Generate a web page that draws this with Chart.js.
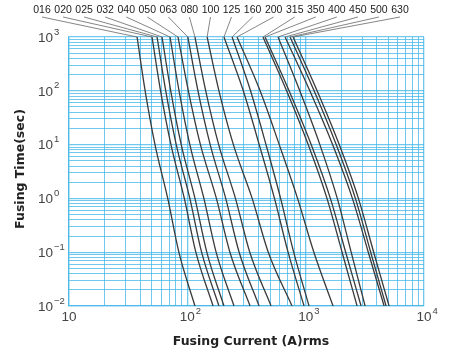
<!DOCTYPE html>
<html><head><meta charset="utf-8">
<script src="https://cdn.jsdelivr.net/npm/chart.js@4/dist/chart.umd.min.js"></script>
<style>html,body{margin:0;padding:0;background:#fff}canvas{display:block}</style>
</head><body>
<canvas id="c" width="450" height="360"></canvas>
<script>
// Fusing time levels (sec) at which currents were read
const times = [1000, 100, 10, 1, 0.1, 0.01];
// Ratings (labels on top)
const ratings = ['016','020','025','032','040','050','063','080','100','125','160','200','315','350','400','450','500','630'];
// Fusing currents (A rms) per rating, one per time level
const I016 = [37.6, 44, 53.3, 68.3, 84.8, 116];
const I020 = [50.3, 59.4, 72.7, 94.3, 118, 165];
const I025 = [55.5, 65.7, 80.6, 105, 132, 185];
const I032 = [61.1, 72.4, 88.8, 116, 146, 204];
const I040 = [71.4, 85.1, 105, 138, 175, 248];
const I050 = [83.4, 102, 129, 176, 229, 339];
const I063 = [101, 123, 156, 211, 274, 404];
const I080 = [116, 143, 184, 255, 337, 510];
const I100 = [147, 185, 245, 353, 483, 767];
const I125 = [204, 297, 405, 545, 710, 969];
const I160 = [239, 342, 462, 614, 792, 1068];
const I200 = [263, 412, 598, 854, 1173, 1704];
const I315 = [436, 690, 1050, 1514, 2031, 2720];
const I350 = [454, 724, 1113, 1617, 2178, 2940];
const I400 = [584, 892, 1318, 1850, 2424, 3178];
const I450 = [670, 1084, 1688, 2482, 3382, 4600];
const I500 = [738, 1178, 1810, 2631, 3544, 4781];
const I630 = [783, 1249, 1920, 2790, 3757, 5070];
const currents = [I016,I020,I025,I032,I040,I050,I063,I080,I100,I125,I160,I200,I315,I350,I400,I450,I500,I630];
// Axis tick labels (exponents)
const xTickExp = [1, 2, 3, 4];
const yTickExp = [3, 2, 1, 0, -1, -2];
// Grid values
const xGrid = [];
for (let e = 1; e <= 3; e++) for (let m = 1; m <= 9; m++) xGrid.push(m * Math.pow(10, e));
xGrid.push(10000);
const yGrid = [];
for (let e = -2; e <= 2; e++) for (let m = 1; m <= 9; m++) yGrid.push(+(m * Math.pow(10, e)).toPrecision(3));
yGrid.push(1000);

const gridColor = 'rgba(64,182,232,0.75)';
const isDecade = v => Math.abs(Math.log10(v) - Math.round(Math.log10(v))) < 1e-9;

const datasets = ratings.map((r, i) => ({
  label: r,
  data: times.map((t, k) => ({x: currents[i][k], y: t})),
  borderColor: '#3a3a3a',
  borderWidth: 1.3,
  pointRadius: 0,
  fill: false,
  cubicInterpolationMode: 'monotone'
}));

const deco = {
  id: 'deco',
  afterDraw(chart) {
    const ctx = chart.ctx, xs = chart.scales.x, ys = chart.scales.y;
    ctx.save();
    // top rating labels with leader lines
    ctx.font = '10.5px "Liberation Sans", Arial, sans-serif';
    ctx.fillStyle = '#222';
    ctx.textAlign = 'center';
    ctx.textBaseline = 'middle';
    const n = ratings.length, lx0 = 42, lx1 = 400;
    ctx.strokeStyle = '#666';
    ctx.lineWidth = 0.8;
    ratings.forEach((r, i) => {
      const lx = lx0 + (lx1 - lx0) * i / (n - 1);
      ctx.fillText(r, lx, 10);
      const px = xs.getPixelForValue(currents[i][0]);
      const py = ys.getPixelForValue(times[0]);
      ctx.beginPath();
      ctx.moveTo(lx, 17);
      ctx.lineTo(px, py);
      ctx.stroke();
    });
    // tick labels with superscripts
    ctx.fillStyle = '#444';
    const base = '13.5px "Liberation Sans", Arial, sans-serif';
    const sup = '9.5px "Liberation Sans", Arial, sans-serif';
    ctx.textBaseline = 'middle';
    yTickExp.forEach(e => {
      const py = ys.getPixelForValue(Math.pow(10, e));
      ctx.font = base; ctx.textAlign = 'left';
      ctx.fillText('10', 38, py + 1);
      const w = ctx.measureText('10').width;
      ctx.font = sup;
      ctx.fillText(e < 0 ? '\u2212' + (-e) : String(e), 38 + w + 1, py - 5);
    });
    xTickExp.forEach(e => {
      const px = xs.getPixelForValue(Math.pow(10, e));
      ctx.font = base; ctx.textAlign = 'center';
      ctx.fillText('10', px, 317);
      const w = ctx.measureText('10').width;
      if (e > 1) {
        ctx.font = sup; ctx.textAlign = 'left';
        ctx.fillText(String(e), px + w / 2 + 1, 311);
      }
    });
    // axis titles
    ctx.fillStyle = '#222';
    ctx.font = 'bold 12.5px "DejaVu Sans", Verdana, sans-serif';
    ctx.textAlign = 'center';
    ctx.fillText('Fusing Current (A)rms', 251, 342);
    ctx.translate(21, 169);
    ctx.rotate(-Math.PI / 2);
    ctx.fillText('Fusing Time(sec)', 0, 0);
    ctx.restore();
  }
};

new Chart(document.getElementById('c'), {
  type: 'line',
  data: { datasets },
  options: {
    responsive: false,
    animation: false,
    devicePixelRatio: 1,
    layout: { padding: { left: 0, top: 37, right: 26, bottom: 0 } },
    plugins: { legend: { display: false }, tooltip: { enabled: false } },
    scales: {
      x: {
        type: 'logarithmic', min: 10, max: 10000,
        afterBuildTicks: s => { s.ticks = xGrid.map(v => ({ value: v })); },
        afterFit: s => { s.height = 54; },
        ticks: { display: false },
        grid: { color: gridColor, lineWidth: c => (c.tick && isDecade(c.tick.value)) ? 1.3 : 1, drawTicks: false },
        border: { color: gridColor, width: 1.3 }
      },
      y: {
        type: 'logarithmic', min: 0.01, max: 1000,
        afterBuildTicks: s => { s.ticks = yGrid.map(v => ({ value: v })); },
        afterFit: s => { s.width = 69; },
        ticks: { display: false },
        grid: { color: gridColor, lineWidth: c => (c.tick && isDecade(c.tick.value)) ? 1.3 : 1, drawTicks: false },
        border: { color: gridColor, width: 1.3 }
      }
    }
  },
  plugins: [deco]
});
</script>
</body></html>
